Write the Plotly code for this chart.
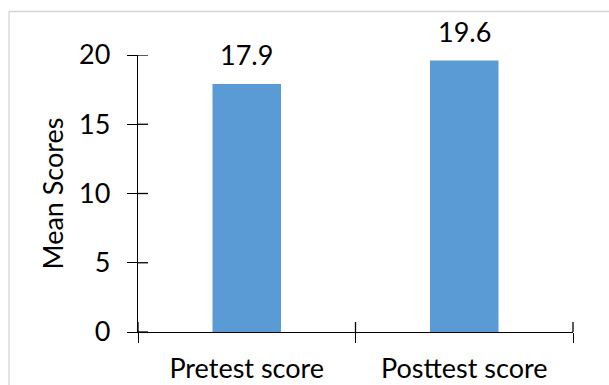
import plotly.graph_objects as go

# Mean scores before and after the intervention
categories = ["Pretest score", "Posttest score"]
mean_scores = [17.9, 19.6]
y_ticks = [0, 5, 10, 15, 20]

BAR_BLUE = "#5B9BD5"
INK = "#000000"
FONT = "Lato"
FS = 27
TICK_LEN = 10
AXIS_W = 1.3

W, H = 609, 385
M_L, M_R, M_T, M_B = 138, 36, 55, 53
plot_w = W - M_L - M_R
plot_h = H - M_T - M_B

fig = go.Figure()

fig.add_trace(go.Bar(
    x=categories, y=mean_scores,
    marker=dict(color=BAR_BLUE, line=dict(width=0)),
    width=0.315,
    hoverinfo="skip",
    showlegend=False,
))

# value labels above the bars
for cat, val in zip(categories, mean_scores):
    fig.add_annotation(
        x=cat, y=val, xref="x", yref="y",
        text=f"{val:.1f}", showarrow=False,
        yanchor="bottom", yshift=11,
        font=dict(family=FONT, size=FS, color=INK),
    )

# inner half of the cross-style tick marks (outer half comes from the axes)
tick_dx = TICK_LEN / plot_w
tick_dy = TICK_LEN / plot_h
for v in y_ticks:
    fig.add_shape(type="line", xref="x domain", yref="y",
                  x0=0, x1=tick_dx, y0=v, y1=v,
                  line=dict(color=INK, width=AXIS_W))
n_cat = len(categories)
for i in range(n_cat + 1):
    fig.add_shape(type="line", xref="x domain", yref="y domain",
                  x0=i / n_cat, x1=i / n_cat, y0=0, y1=tick_dy,
                  line=dict(color=INK, width=AXIS_W))

# light chart-area frame (top and left edges fall inside the page)
frame = dict(color="#d4d4d4", width=1.3)
fx0 = (9 - M_L) / plot_w
fy1 = (H - M_B - 11.5) / plot_h
fig.add_shape(type="line", xref="paper", yref="paper",
              x0=fx0, x1=(W + 40 - M_L) / plot_w, y0=fy1, y1=fy1, line=frame)
fig.add_shape(type="line", xref="paper", yref="paper",
              x0=fx0, x1=fx0, y0=fy1, y1=-(M_B + 40) / plot_h, line=frame)

fig.update_layout(
    width=W, height=H,
    margin=dict(l=M_L, r=M_R, t=M_T, b=M_B, pad=0, autoexpand=False),
    paper_bgcolor="white", plot_bgcolor="white",
    font=dict(family=FONT, size=FS, color=INK),
    xaxis=dict(
        type="category", categoryorder="array", categoryarray=categories,
        range=[-0.5, 1.5], tickson="boundaries", automargin=False,
        ticks="outside", ticklen=TICK_LEN, tickwidth=AXIS_W, tickcolor=INK,
        showline=True, linecolor=INK, linewidth=AXIS_W,
        showgrid=False, zeroline=False, ticklabelstandoff=12,
        tickfont=dict(family=FONT, size=FS, color=INK),
    ),
    yaxis=dict(
        range=[0, 20], tickvals=y_ticks, automargin=False,
        ticks="outside", ticklen=TICK_LEN, tickwidth=AXIS_W, tickcolor=INK,
        showline=True, linecolor=INK, linewidth=AXIS_W,
        showgrid=False, zeroline=False, ticklabelstandoff=11,
        tickfont=dict(family=FONT, size=FS, color=INK),
        title=dict(text="Mean Scores", standoff=7,
                   font=dict(family=FONT, size=FS, color=INK)),
    ),
    showlegend=False,
)

fig.write_html("out.html")
